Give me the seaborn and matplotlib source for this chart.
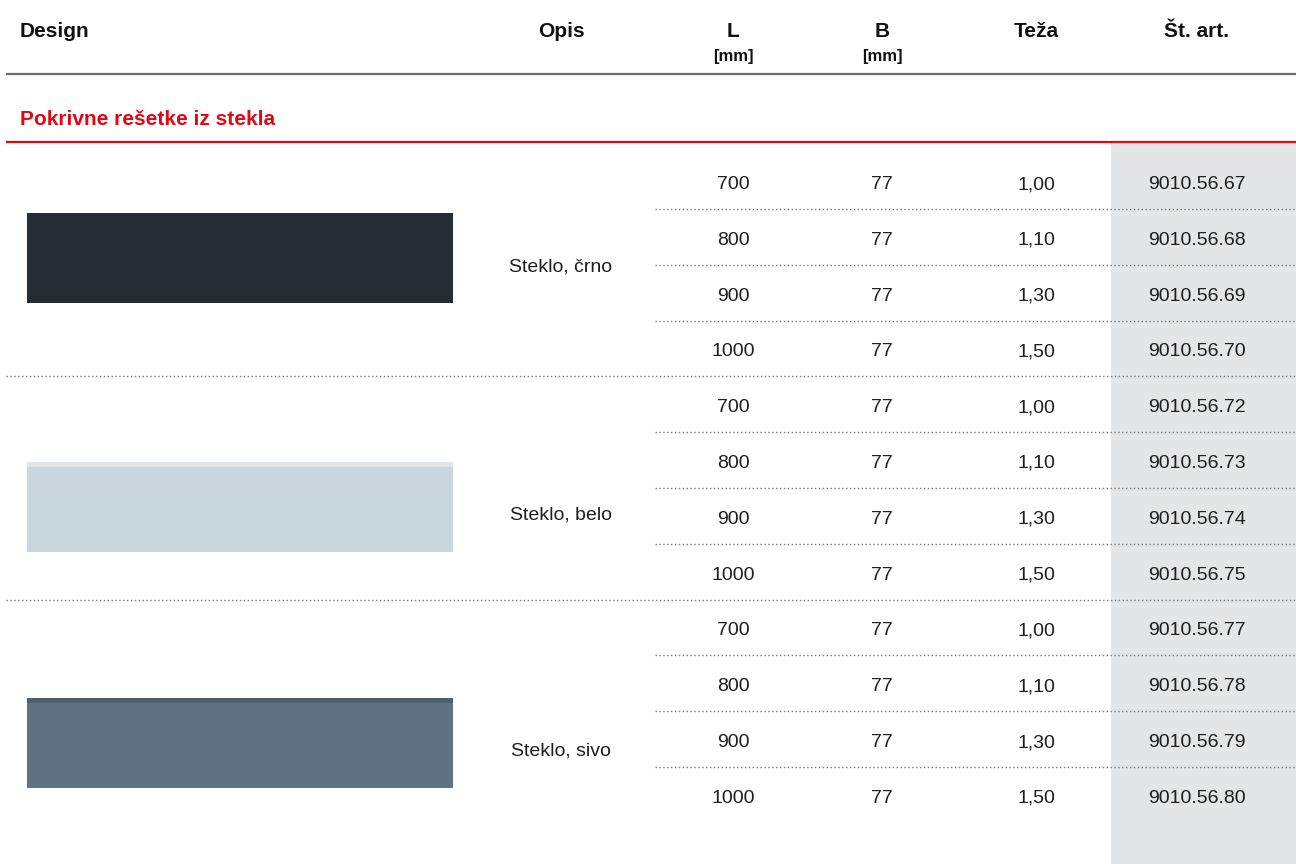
import matplotlib
matplotlib.use("Agg")
import matplotlib.pyplot as plt
from matplotlib import font_manager
from matplotlib.patches import Rectangle
import seaborn as sns

# Table data
headers = ["Design", "Opis", "L", "B", "Teža", "Št. art."]
units = ["[mm]", "[mm]"]
section_title = "Pokrivne rešetke iz stekla"
descriptions = ["Steklo, črno", "Steklo, belo", "Steklo, sivo"]
lengths = [700, 800, 900, 1000]
widths = [77, 77, 77, 77]
weights = ["1,00", "1,10", "1,30", "1,50"]
article_numbers = [
    ["9010.56.67", "9010.56.68", "9010.56.69", "9010.56.70"],
    ["9010.56.72", "9010.56.73", "9010.56.74", "9010.56.75"],
    ["9010.56.77", "9010.56.78", "9010.56.79", "9010.56.80"],
]
swatch_colors = ["#272b34", "#c9d6dd", "#607282"]
swatch_edges = ["#272b34", "#dde5e9", "#4f606e"]

sns.set_theme(style="white")
names = {f.name for f in font_manager.fontManager.ttflist}
narrow = "Liberation Sans Narrow" if "Liberation Sans Narrow" in names else "Liberation Sans"
plt.rcParams["font.family"] = [narrow, "DejaVu Sans"]

fig = plt.figure(figsize=(12.96, 8.64), dpi=100)
ax = fig.add_axes([0, 0, 1, 1])
ax.set_xlim(0, 1296)
ax.set_ylim(864, 0)
ax.axis("off")

# column layout
col_x = {"L": 733, "B": 882, "Teza": 1036, "Art": 1197, "Opis": 561}
row0, row_h = 182, 55.8
red = "#e30613"
ink = "#1e1e1e"

# headers (baseline aligned)
hdr = dict(fontsize=15, fontweight="bold", va="baseline", color="#111111")
ax.text(20, 37, headers[0], ha="left", **hdr)
ax.text(col_x["Opis"], 37, headers[1], ha="center", **hdr)
ax.text(col_x["L"], 37, headers[2], ha="center", **hdr)
ax.text(col_x["B"], 37, headers[3], ha="center", **hdr)
ax.text(col_x["Teza"], 37, headers[4], ha="center", **hdr)
ax.text(col_x["Art"], 37, headers[5], ha="center", **hdr)
ax.text(col_x["L"], 61, units[0], fontsize=12, fontweight="bold", ha="center", va="baseline", color="#111111")
ax.text(col_x["B"], 61, units[1], fontsize=12, fontweight="bold", ha="center", va="baseline", color="#111111")
ax.plot([6, 1296], [74, 74], color="#6d6d6d", lw=1.6, solid_capstyle="butt")

# section title
ax.text(20, 125, section_title, fontsize=15, fontweight="bold", color=red, ha="left", va="baseline")

# grey article column
ax.add_patch(Rectangle((1111, 143), 185, 721, facecolor="#e4e5e7", edgecolor="none", zorder=0))
ax.plot([6, 1296], [142, 142], color=red, lw=1.6, solid_capstyle="butt")

cell = dict(fontsize=14, va="baseline", ha="center", color=ink)
swatch_tops = [213, 462, 698]
for g, desc in enumerate(descriptions):
    first = g * len(lengths)
    top = swatch_tops[g]
    ax.add_patch(Rectangle((27, top), 426, 90, facecolor=swatch_colors[g], edgecolor="none"))
    ax.add_patch(Rectangle((27, top), 426, 5, facecolor=swatch_edges[g], edgecolor="none"))
    ax.text(col_x["Opis"], top + 58, desc, **cell)
    for i in range(len(lengths)):
        r = first + i
        y = row0 + r * row_h
        ax.text(col_x["L"], y + 7, str(lengths[i]), **cell)
        ax.text(col_x["B"], y + 7, str(widths[i]), **cell)
        ax.text(col_x["Teza"], y + 7, weights[i], **cell)
        ax.text(col_x["Art"], y + 7, article_numbers[g][i], **cell)
        if r < len(descriptions) * len(lengths) - 1:
            ys = y + 27
            x0 = 6 if i == len(lengths) - 1 else 655
            ax.plot([x0, 1296], [ys, ys], color="#777777", lw=1.0, linestyle=(0, (1, 1.8)))

fig.savefig("out.png", dpi=100)
